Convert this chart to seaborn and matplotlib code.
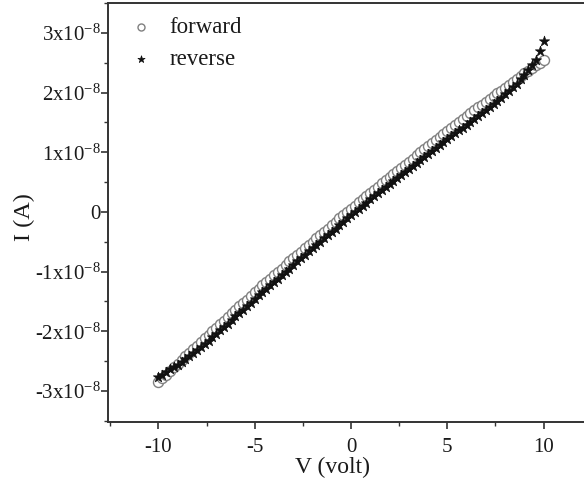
import matplotlib
matplotlib.use("Agg")
import matplotlib.pyplot as plt
import seaborn as sns
import pandas as pd
from matplotlib.ticker import FixedLocator, FixedFormatter, MultipleLocator

# ---- data (current in units of 1e-8 A) ----
voltage = [-10.0, -9.8, -9.6, -9.4, -9.2, -9.0, -8.8, -8.6, -8.4, -8.2,
           -8.0, -7.8, -7.6, -7.4, -7.2, -7.0, -6.8, -6.6, -6.4, -6.2,
           -6.0, -5.8, -5.6, -5.4, -5.2, -5.0, -4.8, -4.6, -4.4, -4.2,
           -4.0, -3.8, -3.6, -3.4, -3.2, -3.0, -2.8, -2.6, -2.4, -2.2,
           -2.0, -1.8, -1.6, -1.4, -1.2, -1.0, -0.8, -0.6, -0.4, -0.2,
           0.0, 0.2, 0.4, 0.6, 0.8, 1.0, 1.2, 1.4, 1.6, 1.8,
           2.0, 2.2, 2.4, 2.6, 2.8, 3.0, 3.2, 3.4, 3.6, 3.8,
           4.0, 4.2, 4.4, 4.6, 4.8, 5.0, 5.2, 5.4, 5.6, 5.8,
           6.0, 6.2, 6.4, 6.6, 6.8, 7.0, 7.2, 7.4, 7.6, 7.8,
           8.0, 8.2, 8.4, 8.6, 8.8, 9.0, 9.2, 9.4, 9.6, 9.8, 10.0]

forward = [-2.85, -2.79, -2.73, -2.67, -2.60, -2.54, -2.48, -2.42, -2.36, -2.30,
           -2.24, -2.18, -2.12, -2.06, -2.00, -1.94, -1.88, -1.82, -1.76, -1.70,
           -1.64, -1.58, -1.52, -1.47, -1.41, -1.35, -1.29, -1.23, -1.18, -1.12,
           -1.06, -1.00, -0.95, -0.89, -0.83, -0.78, -0.72, -0.67, -0.61, -0.55,
           -0.50, -0.44, -0.39, -0.33, -0.28, -0.22, -0.17, -0.11, -0.06, 0.00,
           0.05, 0.10, 0.16, 0.21, 0.26, 0.32, 0.37, 0.42, 0.48, 0.53,
           0.58, 0.63, 0.69, 0.74, 0.79, 0.84, 0.89, 0.95, 1.00, 1.05,
           1.10, 1.15, 1.20, 1.25, 1.30, 1.35, 1.40, 1.45, 1.50, 1.55,
           1.60, 1.65, 1.70, 1.75, 1.79, 1.84, 1.89, 1.94, 1.99, 2.03,
           2.08, 2.13, 2.18, 2.22, 2.27, 2.32, 2.36, 2.41, 2.46, 2.50, 2.55]

reverse = [-2.77, -2.73, -2.69, -2.64, -2.60, -2.56, -2.52, -2.47, -2.42, -2.37,
           -2.32, -2.27, -2.21, -2.16, -2.10, -2.04, -1.98, -1.93, -1.87, -1.81,
           -1.75, -1.69, -1.64, -1.58, -1.52, -1.46, -1.40, -1.35, -1.29, -1.23,
           -1.17, -1.12, -1.06, -1.00, -0.95, -0.89, -0.83, -0.78, -0.72, -0.66,
           -0.61, -0.55, -0.50, -0.44, -0.39, -0.33, -0.28, -0.22, -0.17, -0.11,
           -0.06, -0.01, 0.05, 0.10, 0.15, 0.21, 0.26, 0.31, 0.36, 0.42,
           0.47, 0.52, 0.57, 0.62, 0.67, 0.72, 0.77, 0.82, 0.87, 0.92,
           0.97, 1.02, 1.07, 1.12, 1.17, 1.22, 1.27, 1.32, 1.37, 1.41,
           1.46, 1.51, 1.56, 1.61, 1.66, 1.70, 1.75, 1.80, 1.86, 1.91,
           1.97, 2.03, 2.09, 2.15, 2.22, 2.30, 2.38, 2.46, 2.55, 2.69, 2.86]

y_ticks = [-3e-8, -2e-8, -1e-8, 0, 1e-8, 2e-8, 3e-8]
y_tick_labels = [r"-3x10$^{-8}$", r"-2x10$^{-8}$", r"-1x10$^{-8}$", "0",
                 r"1x10$^{-8}$", r"2x10$^{-8}$", r"3x10$^{-8}$"]
x_ticks = [-10, -5, 0, 5, 10]
x_tick_labels = ["-10", "-5", "0", "5", "10"]

scale = 1e-8
df_f = pd.DataFrame({"V": voltage, "I": [v * scale for v in forward]})
df_r = pd.DataFrame({"V": voltage, "I": [v * scale for v in reverse]})

sns.set_style("ticks")
plt.rcParams["font.family"] = ["Liberation Serif", "DejaVu Serif"]
plt.rcParams["mathtext.fontset"] = "custom"
plt.rcParams["mathtext.rm"] = "Liberation Serif"
plt.rcParams["mathtext.it"] = "Liberation Serif:italic"

fig = plt.figure(figsize=(5.84, 4.88), dpi=100)
ax = fig.add_axes([0.1856, 0.1352, 0.831, 0.8587])

sns.scatterplot(data=df_f, x="V", y="I", ax=ax, marker="o", s=52,
                facecolor="white", edgecolor="#808080", linewidth=1.0,
                label="forward", zorder=2)
sns.scatterplot(data=df_r, x="V", y="I", ax=ax, marker="*", s=60,
                color="#111111", edgecolor="#111111", linewidth=0.5,
                label="reverse", zorder=3)

ax.set_xlim(-12.6, 12.6)
ax.set_ylim(-3.52e-8, 3.5e-8)

ax.xaxis.set_major_locator(FixedLocator(x_ticks))
ax.xaxis.set_major_formatter(FixedFormatter(x_tick_labels))
ax.xaxis.set_minor_locator(MultipleLocator(2.5))
ax.yaxis.set_major_locator(FixedLocator(y_ticks))
ax.yaxis.set_major_formatter(FixedFormatter(y_tick_labels))
ax.yaxis.set_minor_locator(MultipleLocator(0.5e-8))

ax.tick_params(which="major", direction="out", length=5, width=1.2,
               labelsize=15, color="#333333", labelcolor="#1a1a1a")
ax.tick_params(axis="x", which="major", pad=6.5)
ax.tick_params(axis="y", which="major", pad=0.5)
ax.tick_params(which="minor", direction="out", length=3, width=1.0,
               color="#333333")

for side in ["left", "bottom", "top"]:
    ax.spines[side].set_linewidth(1.4)
    ax.spines[side].set_color("#333333")
ax.spines["right"].set_visible(False)

ax.set_xlabel("V (volt)", fontsize=17, color="#1a1a1a")
ax.set_ylabel("I (A)", fontsize=17.5, color="#1a1a1a")
ax.xaxis.set_label_coords(0.461, -0.084)
ax.yaxis.set_label_coords(-0.152, 0.49)

leg = ax.legend(loc="upper left", frameon=False, fontsize=16.5,
                handletextpad=0.45, borderaxespad=0.22, labelspacing=0.45,
                markerscale=0.7, bbox_to_anchor=(0.0, 1.0),
                handlelength=1.6)
for t in leg.get_texts():
    t.set_color("#1a1a1a")

fig.savefig("out.png", dpi=100)
